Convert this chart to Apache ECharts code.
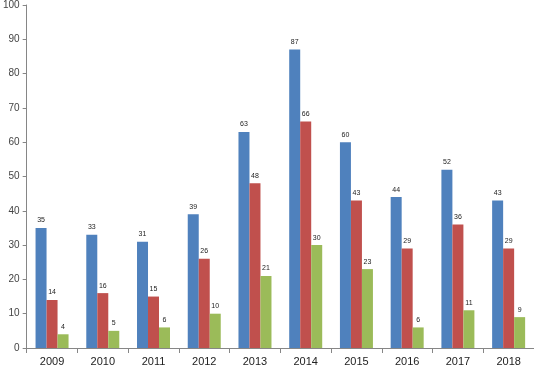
<!DOCTYPE html>
<html><head><meta charset="utf-8">
<script src="https://cdn.jsdelivr.net/npm/echarts@6/dist/echarts.min.js"></script>
<style>html,body{margin:0;padding:0;background:#fff}#c{width:534px;height:371px}</style>
</head><body><div id="c"></div>
<script>
const categories = ['2009','2010','2011','2012','2013','2014','2015','2016','2017','2018'];
const seriesA = [35,33,31,39,63,87,60,44,52,43];
const seriesB = [14,16,15,26,48,66,43,29,36,29];
const seriesC = [4,5,6,10,21,30,23,6,11,9];
const yTicks = {min:0, max:100, interval:10};

const font = 'Liberation Sans, Arial, sans-serif';
const chart = echarts.init(document.getElementById('c'), null, {renderer:'canvas'});
function mk(data, color){
  return {type:'bar', data, barWidth:11, barGap:'0%',
    itemStyle:{color},
    label:{show:true, position:'top', fontSize:7, color:'#222', fontFamily:font, distance:4}};
}
chart.setOption({
  animation:false,
  grid:{left:25, right:0, top:5, bottom:23, containLabel:false},
  xAxis:{type:'category', data:categories,
    axisLine:{lineStyle:{color:'#868686'}},
    axisTick:{show:true, length:5, lineStyle:{color:'#868686'}},
    axisLabel:{color:'#222', fontSize:11, fontFamily:font, margin:8}},
  yAxis:{type:'value', min:yTicks.min, max:yTicks.max, interval:yTicks.interval,
    splitLine:{show:false},
    axisLine:{show:true, lineStyle:{color:'#868686'}},
    axisTick:{show:true, length:4, lineStyle:{color:'#868686'}},
    axisLabel:{color:'#444', fontSize:10, fontFamily:font, margin:7}},
  series:[mk(seriesA,'#4F81BD'), mk(seriesB,'#C0504D'), mk(seriesC,'#9BBB59')]
});
</script></body></html>
